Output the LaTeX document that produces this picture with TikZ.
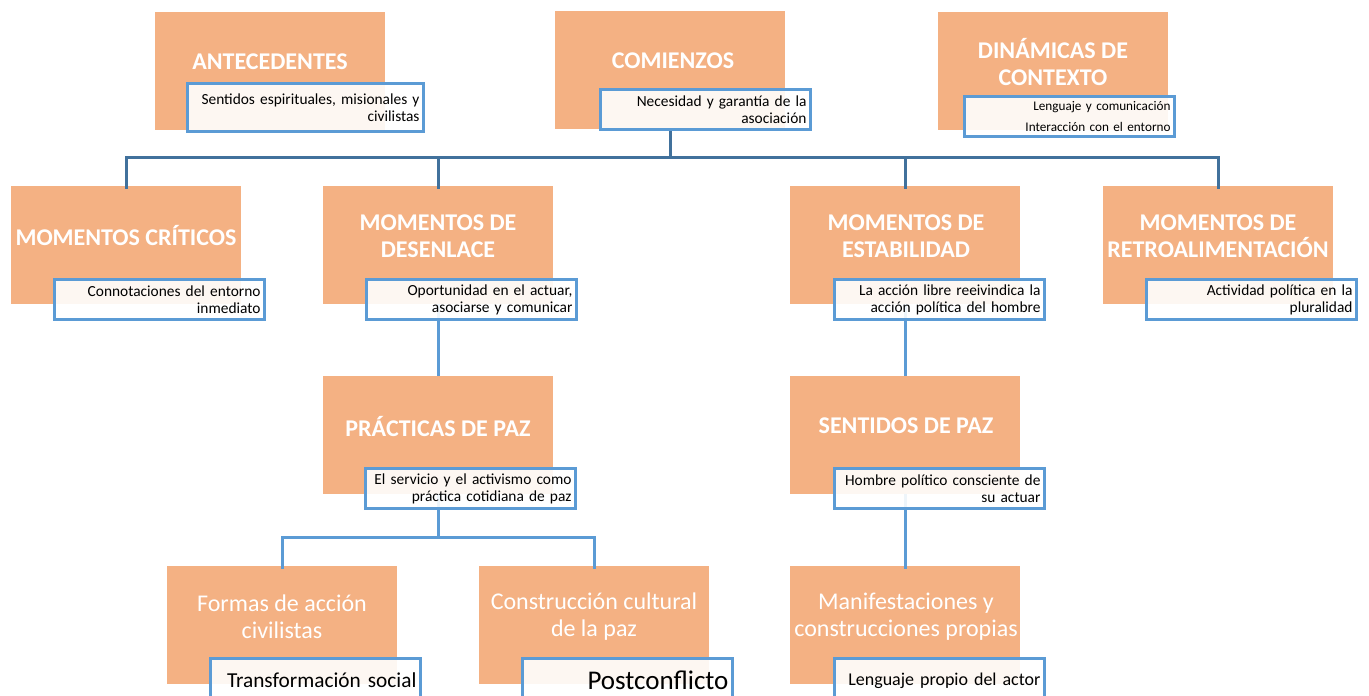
\documentclass[tikz,border=0pt]{standalone}
\usepackage{fontspec}
\setmainfont{Carlito}
\definecolor{naranja}{HTML}{F4B183}
\definecolor{azul}{HTML}{5B9BD5}
\definecolor{azulosc}{HTML}{41719C}

\begin{document}
\begin{tikzpicture}[x=1pt,y=-1pt,
  tema/.style={rectangle,fill=naranja,minimum width=230pt,minimum height=118pt,inner sep=0pt},
  nota/.style={rectangle,draw=azul,line width=3pt,fill=white,fill opacity=0.9,text opacity=1,
    text width=202pt,inner xsep=4pt,inner ysep=2pt,minimum height=40pt,align=right,anchor=north east,
    font=\fontsize{15.4}{17}\selectfont},
  titulo/.style={text=white,font=\bfseries\fontsize{24}{27}\selectfont,align=center},
  subtitulo/.style={text=white,font=\fontsize{24}{27}\selectfont,align=center},
  enlace/.style={draw=azulosc,line width=3pt},
  enlace2/.style={draw=azul,line width=3pt}]
  \useasboundingbox (0,0) rectangle (1369,696);

  % cajas
  \node[tema] (ante) at (270,71) {};
  \node[tema] (com) at (670,70) {};
  \node[tema] (din) at (1053,71) {};
  \node[tema] (crit) at (126,245) {};
  \node[tema] (des) at (438,245) {};
  \node[tema] (est) at (905,245) {};
  \node[tema] (ret) at (1218,245) {};
  \node[tema] (prac) at (438,435) {};
  \node[tema] (sent) at (905,435) {};
  \node[tema] (form) at (282,625) {};
  \node[tema] (cons) at (594,625) {};
  \node[tema] (mani) at (905,625) {};

  % titulos
  \node[titulo] (anteT) at (270,62) {ANTECEDENTES};
  \node[titulo] (comT) at (673,61) {COMIENZOS};
  \node[titulo] (dinT) at (1053,62) {DINÁMICAS DE\\CONTEXTO};
  \node[titulo] (critT) at (126,236) {MOMENTOS CRÍTICOS};
  \node[titulo] (desT) at (438,236) {MOMENTOS DE\\DESENLACE};
  \node[titulo] (estT) at (906,236) {MOMENTOS DE\\ESTABILIDAD};
  \node[titulo] (retT) at (1218,236) {MOMENTOS DE\\RETROALIMENTACIÓN};
  \node[titulo] (pracT) at (438,426) {PRÁCTICAS DE PAZ};
  \node[titulo] (sentT) at (906,426) {SENTIDOS DE PAZ};
  \node[subtitulo] (formT) at (282,617) {Formas de acción\\civilistas};
  \node[subtitulo] (consT) at (594,617) {Construcción cultural\\de la paz};
  \node[subtitulo] (maniT) at (906,617) {Manifestaciones y\\construcciones propias};

  % conectores
  \coordinate (bus1) at (670,157);
  \coordinate (bus2) at (438,537);
  \draw[enlace] (com.south) -- (bus1);
  \draw[enlace] (bus1) -| ([yshift=-3]crit.north);
  \draw[enlace] (bus1) -| ([yshift=-3]des.north);
  \draw[enlace] (bus1) -| ([yshift=-3]est.north);
  \draw[enlace] (bus1) -| ([yshift=-3]ret.north);
  \draw[enlace2] (des.south) -- (prac.north);
  \draw[enlace2] (est.south) -- (sent.north);
  \draw[enlace2] (prac.south) -- (bus2);
  \draw[enlace2] (bus2) -| ([yshift=-3]form.north);
  \draw[enlace2] (bus2) -| ([yshift=-3]cons.north);
  \draw[enlace2] (sent.south) -- ([yshift=-3]mani.north);

  % notas
  \node[nota,text width=228pt,minimum height=48pt] (anteL) at (425,82) {Sentidos espirituales, misionales y\\civilistas};
  \node[nota] (comL) at (812,88) {Necesidad y garantía de la\\asociación};
  \node[nota,font=\fontsize{13.2}{21}\selectfont] (dinL) at (1176,95) {Lenguaje y comunicación\\Interacción con el entorno};
  \node[nota] (critL) at (266,278) {Connotaciones del entorno\\inmediato};
  \node[nota] (desL) at (578,278) {Oportunidad en el actuar,\\asociarse y comunicar};
  \node[nota] (estL) at (1046,278) {La acción libre reeivindica la\\acción política del hombre};
  \node[nota] (retL) at (1358,278) {Actividad política en la\\pluralidad};
  \node[nota] (pracL) at (577,467) {El servicio y el activismo como\\práctica cotidiana de paz};
  \node[nota] (sentL) at (1046,467) {Hombre político consciente de\\su actuar};
  \node[nota,minimum height=44pt,font=\fontsize{21.3}{23}\selectfont] (formL) at (422,657) {Transformación social};
  \node[nota,minimum height=44pt,font=\fontsize{27}{29}\selectfont] (consL) at (734,657) {Postconflicto};
  \node[nota,minimum height=44pt,font=\fontsize{18}{20}\selectfont] (maniL) at (1046,657) {Lenguaje propio del actor};
\end{tikzpicture}
\end{document}
